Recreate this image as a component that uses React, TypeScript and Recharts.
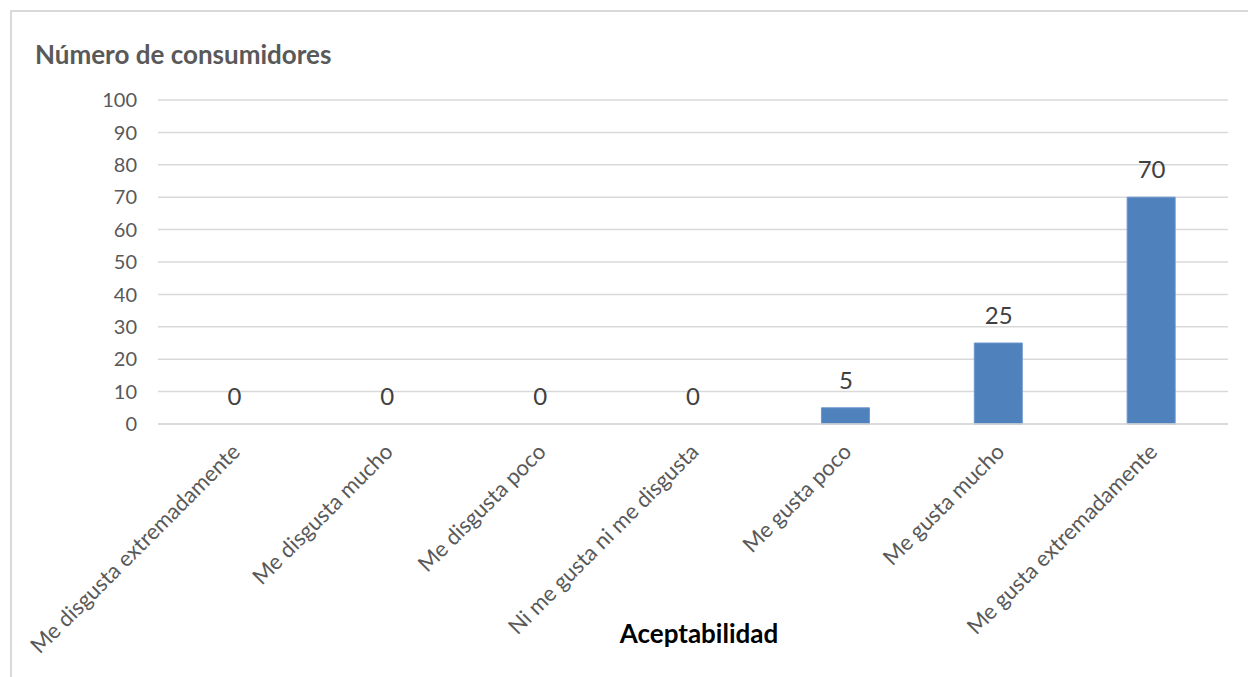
import React from 'react';
import { ComposedChart, Bar, Line, XAxis, YAxis, CartesianGrid, LabelList } from 'recharts';

const categories = [
  'Me disgusta extremadamente',
  'Me disgusta mucho',
  'Me disgusta poco',
  'Ni me gusta ni me disgusta',
  'Me gusta poco',
  'Me gusta mucho',
  'Me gusta extremadamente',
];
const consumers = [0, 0, 0, 0, 5, 25, 70];
const yTicks = [0, 10, 20, 30, 40, 50, 60, 70, 80, 90, 100];

const data = categories.map((c, i) => ({ name: c, value: consumers[i] }));

const FONT = 'Lato, "Open Sans", sans-serif';

const XTick = (props: any) => {
  const { x, y, payload } = props;
  return (
    <g transform={`translate(${x},${y})`}>
      <text
        x={0}
        y={0}
        dx={-10}
        dy={20}
        textAnchor="end"
        transform="rotate(-45)"
        fill="#595959"
        fontSize={22}
        fontFamily={FONT}
      >
        {payload.value}
      </text>
    </g>
  );
};

export default function App() {
  return (
    <div style={{ position: 'absolute', left: 0, top: 0, width: 1248, height: 677, overflow: 'hidden', background: '#fff' }}>
      <div
        style={{
          position: 'absolute',
          left: 10,
          top: 10,
          width: 1300,
          height: 800,
          border: '2px solid #d9d9d9',
          boxSizing: 'border-box',
        }}
      />
      <div
        style={{
          position: 'absolute',
          left: 35,
          top: 38,
          fontFamily: FONT,
          fontWeight: 700,
          fontSize: 26,
          color: '#595959',
          whiteSpace: 'nowrap',
          lineHeight: '32px',
        }}
      >
        Número de consumidores
      </div>
      <div
        style={{
          position: 'absolute',
          left: 0,
          width: 1398,
          top: 617,
          textAlign: 'center',
          fontFamily: FONT,
          fontWeight: 700,
          fontSize: 26,
          color: '#000',
          lineHeight: '32px',
        }}
      >
        Aceptabilidad
      </div>
      <div style={{ position: 'absolute', left: 0, top: 0 }}>
        <ComposedChart
          width={1248}
          height={677}
          data={data}
          margin={{ top: 100, right: 20, bottom: 53, left: 98 }}
        >
          <CartesianGrid vertical={false} stroke="#d9d9d9" strokeWidth={1.5} />
          <XAxis
            dataKey="name"
            interval={0}
            height={200}
            axisLine={{ stroke: '#d9d9d9', strokeWidth: 1.5 }}
            tickLine={false}
            tick={<XTick />}
          />
          <YAxis
            domain={[0, 100]}
            ticks={yTicks}
            width={60}
            axisLine={false}
            tickLine={false}
            tickMargin={15}
            tick={{ fill: '#595959', fontSize: 20, fontFamily: FONT }}
          />
          <Bar dataKey="value" fill="#4f81bd" stroke="#6b96cc" strokeWidth={1} barSize={48} isAnimationActive={false} />
          <Line
            dataKey="value"
            stroke="none"
            dot={false}
            activeDot={false}
            legendType="none"
            isAnimationActive={false}
          >
            <LabelList
              dataKey="value"
              position="top"
              offset={19}
              fill="#404040"
              fontSize={24}
              fontFamily={FONT}
            />
          </Line>
        </ComposedChart>
      </div>
    </div>
  );
}
